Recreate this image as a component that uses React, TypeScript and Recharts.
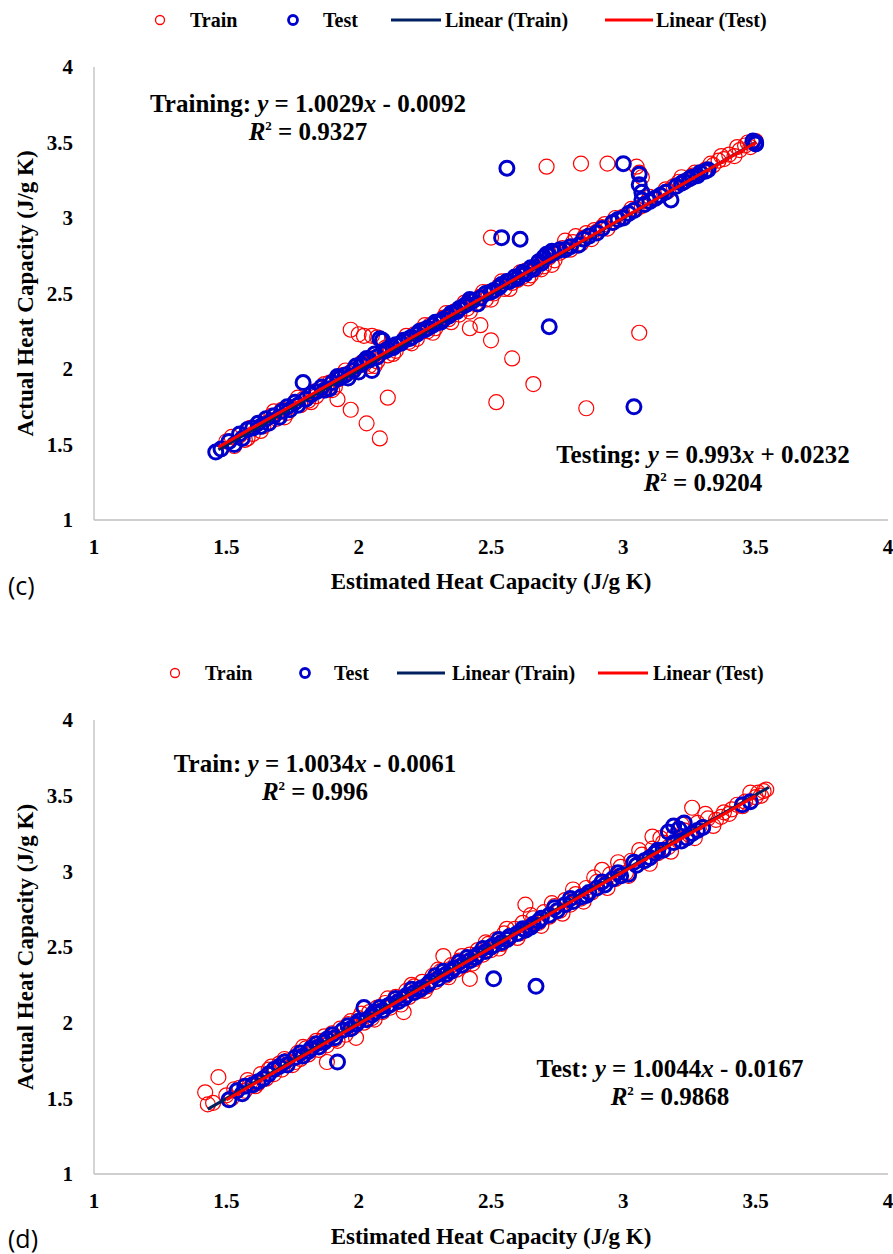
import React from 'react';
import { ScatterChart, Scatter, XAxis, YAxis } from 'recharts';

type P = { x: number; y: number };
const pts = (a: number[][]): P[] => a.map(([x, y]) => ({ x, y }));

// ---------- axis ticks ----------
const axisTicks = [1, 1.5, 2, 2.5, 3, 3.5, 4];

// ---------- chart (c) ----------
const trainC = pts([
  [1.48, 1.47], [1.5, 1.52], [1.53, 1.49], [1.55, 1.56], [1.57, 1.53], [1.59, 1.61], [1.6, 1.57], [1.62, 1.64],
  [1.64, 1.62], [1.66, 1.65], [1.67, 1.69], [1.69, 1.67], [1.71, 1.73], [1.73, 1.71], [1.74, 1.75], [1.76, 1.78],
  [1.78, 1.76], [1.79, 1.8], [1.81, 1.79], [1.83, 1.85], [1.84, 1.82], [1.86, 1.87], [1.88, 1.86], [1.89, 1.91],
  [1.91, 1.88], [1.92, 1.93], [1.94, 1.96], [1.96, 1.94], [1.97, 1.98], [1.99, 2.01], [2.0, 1.98], [2.02, 2.03],
  [2.04, 2.02], [2.05, 2.07], [2.07, 2.05], [2.09, 2.11], [2.11, 2.09], [2.12, 2.14], [2.14, 2.12], [2.16, 2.17],
  [2.17, 2.19], [2.19, 2.18], [2.21, 2.23], [2.22, 2.2], [2.24, 2.26], [2.26, 2.25], [2.27, 2.29], [2.29, 2.27],
  [2.31, 2.32], [2.32, 2.34], [2.34, 2.33], [2.36, 2.38], [2.38, 2.36], [2.39, 2.41], [2.41, 2.4], [2.43, 2.45],
  [2.44, 2.43], [2.46, 2.48], [2.48, 2.46], [2.49, 2.51], [2.51, 2.5], [2.53, 2.55], [2.55, 2.53], [2.56, 2.58],
  [2.58, 2.57], [2.6, 2.59], [2.62, 2.61], [2.63, 2.65], [2.65, 2.62], [2.67, 2.66], [2.68, 2.7], [2.7, 2.68],
  [2.72, 2.74], [2.74, 2.72], [2.76, 2.77], [2.78, 2.85], [2.8, 2.79], [2.82, 2.88], [2.84, 2.83], [2.86, 2.9],
  [2.88, 2.86], [2.9, 2.91], [2.92, 2.94], [2.94, 2.93], [2.96, 2.97], [2.98, 2.99], [3.0, 3.01], [3.02, 3.03],
  [3.05, 3.06], [3.07, 3.08], [3.09, 3.11], [3.12, 3.13], [3.14, 3.15], [3.17, 3.18], [3.19, 3.21], [3.22, 3.27],
  [3.24, 3.25], [3.26, 3.28], [3.29, 3.3], [3.31, 3.32], [3.34, 3.35], [3.36, 3.38], [3.38, 3.39], [3.4, 3.42],
  [3.42, 3.41], [3.44, 3.45], [3.46, 3.48], [3.48, 3.47], [3.5, 3.51],
  [1.52, 1.55], [1.58, 1.54], [1.63, 1.59], [1.68, 1.72], [1.72, 1.68], [1.77, 1.81], [1.82, 1.78], [1.87, 1.9],
  [1.9, 1.86], [1.95, 1.99], [2.01, 2.04], [2.06, 2.02], [2.1, 2.14], [2.13, 2.1], [2.18, 2.22], [2.2, 2.17],
  [2.25, 2.29], [2.28, 2.24], [2.33, 2.37], [2.35, 2.31], [2.4, 2.44], [2.42, 2.38], [2.47, 2.51], [2.5, 2.46],
  [2.54, 2.58], [2.57, 2.53], [2.61, 2.64], [2.64, 2.6], [2.69, 2.66], [2.71, 2.75], [2.73, 2.69], [2.77, 2.8],
  [2.81, 2.84], [2.85, 2.87], [2.89, 2.92], [2.93, 2.96], [2.97, 3.0], [3.03, 3.06], [3.1, 3.14], [3.16, 3.19],
  [3.21, 3.24], [3.27, 3.3], [3.33, 3.36], [3.37, 3.41], [3.43, 3.47], [3.47, 3.5],
  [1.97, 2.26], [2.0, 2.23], [2.02, 2.22], [2.05, 2.22], [2.07, 2.21], [1.92, 1.8], [1.97, 1.73], [2.03, 1.64],
  [2.08, 1.54], [2.11, 1.81], [2.42, 2.27], [2.46, 2.29], [2.5, 2.19], [2.58, 2.07], [2.52, 1.78], [2.66, 1.9],
  [2.86, 1.74], [3.06, 2.24], [2.5, 2.87], [2.71, 3.34], [2.84, 3.36], [2.94, 3.36], [3.05, 3.34], [3.06, 3.3],
  [3.07, 3.27],
]);
const testC = pts([
  [1.46, 1.45], [1.51, 1.52], [1.53, 1.5], [1.56, 1.54], [1.6, 1.61], [1.63, 1.62], [1.66, 1.64], [1.68, 1.69],
  [1.71, 1.72], [1.74, 1.73], [1.77, 1.76], [1.79, 1.91], [1.8, 1.8], [1.84, 1.85], [1.87, 1.86], [1.9, 1.91],
  [1.93, 1.94], [1.95, 1.96], [1.98, 1.99], [2.0, 1.98], [2.02, 2.05], [2.04, 2.06], [2.05, 1.99], [2.06, 2.1],
  [2.08, 2.2], [2.09, 2.19], [2.1, 2.12], [2.13, 2.14], [2.16, 2.17], [2.19, 2.2], [2.22, 2.23], [2.25, 2.26],
  [2.28, 2.29], [2.31, 2.31], [2.34, 2.35], [2.37, 2.38], [2.4, 2.42], [2.43, 2.45], [2.45, 2.43], [2.48, 2.5],
  [2.51, 2.52], [2.54, 2.56], [2.57, 2.58], [2.6, 2.6], [2.63, 2.63], [2.66, 2.66], [2.69, 2.7], [2.71, 2.76],
  [2.72, 2.75], [2.74, 2.77], [2.54, 2.87], [2.61, 2.86], [2.56, 3.33], [2.72, 2.28], [2.78, 2.79], [2.83, 2.82],
  [2.87, 2.88], [2.9, 2.9], [2.96, 2.97], [3.0, 3.0], [3.0, 3.36], [3.02, 3.03], [3.06, 3.29], [3.06, 3.22],
  [3.07, 3.17], [3.07, 3.12], [3.08, 3.09], [3.04, 1.75], [3.12, 3.13], [3.16, 3.17], [3.18, 3.12], [3.2, 3.21],
  [3.23, 3.24], [3.26, 3.27], [3.29, 3.3], [3.32, 3.32], [3.49, 3.51], [3.5, 3.5], [3.5, 3.49],
  [1.48, 1.47], [1.55, 1.57], [1.58, 1.6], [1.62, 1.64], [1.65, 1.67], [1.7, 1.68], [1.73, 1.75], [1.76, 1.78],
  [1.82, 1.83], [1.86, 1.88], [1.89, 1.87], [1.92, 1.95], [1.96, 1.94], [1.99, 2.02], [2.01, 2.03], [2.03, 2.07],
  [2.07, 2.08], [2.11, 2.13], [2.14, 2.16], [2.17, 2.19], [2.2, 2.21], [2.23, 2.25], [2.26, 2.27], [2.29, 2.31],
  [2.32, 2.33], [2.35, 2.37], [2.38, 2.4], [2.41, 2.43], [2.42, 2.46], [2.46, 2.47], [2.5, 2.51], [2.53, 2.54],
  [2.56, 2.58], [2.59, 2.61], [2.62, 2.64], [2.65, 2.67], [2.68, 2.71], [2.7, 2.74], [2.73, 2.78], [2.76, 2.79],
  [2.8, 2.81], [2.85, 2.86], [2.92, 2.93], [2.98, 2.99], [3.04, 3.05], [3.1, 3.11], [3.14, 3.15], [3.22, 3.23],
  [3.25, 3.26], [3.28, 3.28], [3.31, 3.31],
]);
const trainFitC = { slope: 1.0029, intercept: -0.0092, from: 1.47, to: 3.5 };
const testFitC = { slope: 0.993, intercept: 0.0232, from: 1.47, to: 3.5 };

// ---------- chart (d) ----------
const trainD = pts([
  [1.43, 1.46], [1.42, 1.54], [1.47, 1.64], [1.5, 1.52], [1.52, 1.5], [1.55, 1.57], [1.57, 1.55], [1.59, 1.6],
  [1.61, 1.58], [1.63, 1.66], [1.65, 1.63], [1.66, 1.69], [1.68, 1.66], [1.7, 1.73], [1.71, 1.69], [1.73, 1.75],
  [1.75, 1.72], [1.77, 1.8], [1.78, 1.76], [1.8, 1.83], [1.81, 1.79], [1.83, 1.86], [1.85, 1.82], [1.86, 1.88],
  [1.88, 1.85], [1.88, 1.74], [1.9, 1.93], [1.91, 1.89], [1.93, 1.96], [1.95, 1.92], [1.96, 1.99], [1.99, 1.9],
  [1.98, 1.97], [2.0, 2.03], [2.02, 2.0], [2.04, 2.07], [2.05, 2.03], [2.07, 2.1], [2.09, 2.07], [2.1, 2.13],
  [2.12, 2.1], [2.14, 2.17], [2.15, 2.14], [2.17, 2.07], [2.18, 2.21], [2.19, 2.17], [2.21, 2.24], [2.23, 2.21],
  [2.24, 2.27], [2.26, 2.24], [2.28, 2.31], [2.29, 2.27], [2.31, 2.34], [2.32, 2.44], [2.33, 2.31], [2.35, 2.38],
  [2.37, 2.35], [2.38, 2.41], [2.4, 2.38], [2.42, 2.29], [2.42, 2.45], [2.44, 2.42], [2.45, 2.48], [2.47, 2.45],
  [2.49, 2.52], [2.5, 2.48], [2.52, 2.55], [2.54, 2.52], [2.55, 2.59], [2.57, 2.56], [2.59, 2.62], [2.61, 2.59],
  [2.63, 2.78], [2.62, 2.66], [2.64, 2.63], [2.66, 2.69], [2.68, 2.66], [2.7, 2.73], [2.72, 2.7], [2.74, 2.77],
  [2.76, 2.74], [2.78, 2.81], [2.8, 2.78], [2.82, 2.85], [2.84, 2.82], [2.86, 2.89], [2.88, 2.86], [2.9, 2.93],
  [2.92, 3.01], [2.93, 2.91], [2.95, 2.98], [2.97, 2.95], [2.99, 3.03], [3.01, 2.99], [3.03, 3.07], [3.05, 3.04],
  [3.07, 3.11], [3.09, 3.08], [3.11, 3.23], [3.11, 3.15], [3.13, 3.12], [3.15, 3.19], [3.17, 3.16], [3.19, 3.23],
  [3.21, 3.2], [3.23, 3.27], [3.25, 3.24], [3.26, 3.42], [3.28, 3.32], [3.3, 3.29], [3.32, 3.35], [3.35, 3.34],
  [3.38, 3.39], [3.4, 3.38], [3.43, 3.44], [3.45, 3.43], [3.48, 3.52], [3.5, 3.49], [3.53, 3.53], [3.52, 3.5],
  [1.45, 1.47], [1.53, 1.56], [1.58, 1.62], [1.62, 1.6], [1.67, 1.71], [1.72, 1.76], [1.76, 1.74], [1.79, 1.84],
  [1.84, 1.88], [1.87, 1.91], [1.92, 1.88], [1.97, 2.01], [2.01, 2.06], [2.06, 2.02], [2.11, 2.16], [2.16, 2.12],
  [2.2, 2.25], [2.25, 2.21], [2.3, 2.35], [2.34, 2.3], [2.39, 2.44], [2.43, 2.39], [2.48, 2.53], [2.53, 2.49],
  [2.56, 2.62], [2.6, 2.56], [2.65, 2.71], [2.69, 2.64], [2.73, 2.79], [2.77, 2.72], [2.81, 2.88], [2.85, 2.8],
  [2.89, 2.96], [2.94, 2.89], [2.98, 3.06], [3.02, 2.97], [3.06, 3.14], [3.1, 3.05], [3.14, 3.22], [3.18, 3.13],
  [3.22, 3.31], [3.27, 3.22], [3.31, 3.38], [3.34, 3.3], [3.37, 3.36], [3.41, 3.41], [3.46, 3.46], [3.51, 3.52],
  [3.54, 3.54],
]);
const testD = pts([
  [1.51, 1.49], [1.54, 1.55], [1.56, 1.53], [1.6, 1.59], [1.62, 1.61], [1.66, 1.66], [1.7, 1.71], [1.73, 1.72],
  [1.76, 1.77], [1.79, 1.78], [1.82, 1.83], [1.85, 1.84], [1.88, 1.89], [1.92, 1.74], [1.91, 1.9], [1.94, 1.95],
  [1.97, 1.96], [2.0, 2.01], [2.02, 2.1], [2.03, 2.02], [2.06, 2.07], [2.09, 2.08], [2.12, 2.12], [2.15, 2.14],
  [2.18, 2.18], [2.21, 2.2], [2.24, 2.23], [2.27, 2.27], [2.3, 2.29], [2.33, 2.32], [2.36, 2.36], [2.39, 2.38],
  [2.42, 2.41], [2.45, 2.45], [2.48, 2.47], [2.51, 2.29], [2.51, 2.51], [2.54, 2.53], [2.57, 2.57], [2.6, 2.59],
  [2.63, 2.61], [2.66, 2.65], [2.67, 2.24], [2.69, 2.69], [2.72, 2.71], [2.75, 2.74], [2.78, 2.78], [2.81, 2.8],
  [2.84, 2.83], [2.87, 2.86], [2.9, 2.89], [2.93, 2.91], [2.96, 2.95], [2.99, 2.97], [3.02, 2.98], [3.05, 3.04],
  [3.08, 3.07], [3.12, 3.12], [3.15, 3.14], [3.17, 3.26], [3.19, 3.3], [3.21, 3.28], [3.23, 3.32], [3.22, 3.2],
  [3.26, 3.25], [3.3, 3.29], [3.45, 3.44], [3.48, 3.46],
  [1.57, 1.58], [1.64, 1.63], [1.68, 1.69], [1.72, 1.74], [1.78, 1.8], [1.81, 1.81], [1.84, 1.86], [1.87, 1.87],
  [1.9, 1.92], [1.96, 1.98], [1.99, 1.99], [2.05, 2.05], [2.08, 2.1], [2.11, 2.11], [2.14, 2.16], [2.17, 2.16],
  [2.2, 2.22], [2.23, 2.22], [2.26, 2.25], [2.29, 2.31], [2.32, 2.34], [2.35, 2.34], [2.38, 2.4], [2.41, 2.43],
  [2.44, 2.43], [2.47, 2.49], [2.5, 2.5], [2.53, 2.55], [2.56, 2.55], [2.62, 2.62], [2.65, 2.63], [2.68, 2.67],
  [2.74, 2.76], [2.8, 2.82], [2.86, 2.84], [2.92, 2.93], [2.98, 2.99], [3.04, 3.06], [3.1, 3.09], [3.13, 3.14],
  [3.19, 3.19], [3.24, 3.22], [3.28, 3.27],
]);
const trainFitD = { slope: 1.0034, intercept: -0.0061, from: 1.43, to: 3.55 };
const testFitD = { slope: 1.0044, intercept: -0.0167, from: 1.5, to: 3.5 };

// ---------- text ----------
const legendLabels = ['Train', 'Test', 'Linear (Train)', 'Linear (Test)'];
const xTitle = 'Estimated Heat Capacity (J/g K)';
const yTitle = 'Actual Heat Capacity (J/g K)';

const SERIF = '"Liberation Serif", "Times New Roman", serif';
const RED = '#FF0000';
const BLUE = '#0000CC';
const NAVY = '#002060';
const AXIS = '#BFBFBF';

type Fit = { slope: number; intercept: number; from: number; to: number };
const fitLine = (f: Fit): P[] => [f.from, f.to].map((x) => ({ x, y: f.slope * x + f.intercept }));

const TrainDot = (p: any) =>
  p.cx == null ? <g /> : <circle cx={p.cx} cy={p.cy} r={7.5} fill="none" stroke={RED} strokeWidth={1.2} />;
const TestDot = (p: any) =>
  p.cx == null ? <g /> : <circle cx={p.cx} cy={p.cy} r={7} fill="none" stroke={BLUE} strokeWidth={3} />;
const NoDot = () => <g />;

const tickStyle = { fill: '#000', fontSize: 21, fontWeight: 700, fontFamily: SERIF };

function Panel(props: {
  top: number; height: number; mTop: number; mBottom: number;
  train: P[]; test: P[]; trainFit: Fit; testFit: Fit;
}) {
  const { top, height, mTop, mBottom, train, test, trainFit, testFit } = props;
  return (
    <div style={{ position: 'absolute', left: 0, top, width: 893, height }}>
      <ScatterChart width={893} height={height} margin={{ top: mTop, right: 5, bottom: mBottom, left: 0 }}>
        <XAxis
          type="number" dataKey="x" domain={[1, 4]} ticks={axisTicks} allowDataOverflow
          axisLine={{ stroke: AXIS, strokeWidth: 1.3 }} tickLine={false} tickSize={0} tickMargin={19}
          height={60} tick={tickStyle} interval={0}
        />
        <YAxis
          type="number" dataKey="y" domain={[1, 4]} ticks={axisTicks} allowDataOverflow
          axisLine={{ stroke: AXIS, strokeWidth: 1.3 }} tickLine={false} tickSize={0} tickMargin={21}
          width={94} tick={tickStyle} interval={0}
        />
        <Scatter name="Train" data={train} shape={TrainDot} isAnimationActive={false} />
        <Scatter name="Test" data={test} shape={TestDot} isAnimationActive={false} />
        <Scatter name="Linear (Train)" data={fitLine(trainFit)} shape={NoDot}
          line={{ stroke: NAVY, strokeWidth: 3 }} isAnimationActive={false} />
        <Scatter name="Linear (Test)" data={fitLine(testFit)} shape={NoDot}
          line={{ stroke: RED, strokeWidth: 3 }} isAnimationActive={false} />
      </ScatterChart>
    </div>
  );
}

function Legend({ y, xs }: { y: number; xs: number[] }) {
  const base = y + 7;
  const t = { fontFamily: SERIF, fontSize: 20, fontWeight: 700, fill: '#000' } as const;
  return (
    <g>
      <circle cx={xs[0]} cy={y} r={4.5} fill="none" stroke={RED} strokeWidth={1.3} />
      <text x={xs[1]} y={base} {...t}>{legendLabels[0]}</text>
      <circle cx={xs[2]} cy={y} r={4.5} fill="none" stroke={BLUE} strokeWidth={2.8} />
      <text x={xs[3]} y={base} {...t}>{legendLabels[1]}</text>
      <line x1={xs[4]} x2={xs[5]} y1={y} y2={y} stroke={NAVY} strokeWidth={3} />
      <text x={xs[6]} y={base} {...t}>{legendLabels[2]}</text>
      <line x1={xs[7]} x2={xs[8]} y1={y} y2={y} stroke={RED} strokeWidth={3} />
      <text x={xs[9]} y={base} {...t}>{legendLabels[3]}</text>
    </g>
  );
}

function Equation({ x, y, label, slope, intercept, r2 }: {
  x: number; y: number; label: string; slope: string; intercept: string; r2: string;
}) {
  const t = { fontFamily: SERIF, fontSize: 25, fontWeight: 700, fill: '#000', textAnchor: 'middle' } as const;
  return (
    <g>
      <text x={x} y={y} {...t}>
        {label}: <tspan fontStyle="italic">y</tspan> = {slope}<tspan fontStyle="italic">x</tspan> {intercept}
      </text>
      <text x={x} y={y + 28} {...t}>
        <tspan fontStyle="italic">R</tspan>
        <tspan fontSize={13} dy={-10}>2</tspan>
        <tspan dy={10}> = {r2}</tspan>
      </text>
    </g>
  );
}

function Titles({ plotTop, plotBottom, xBase, tag, tagBase }: {
  plotTop: number; plotBottom: number; xBase: number; tag: string; tagBase: number;
}) {
  const t = { fontFamily: SERIF, fontSize: 23, fontWeight: 700, fill: '#000', textAnchor: 'middle' } as const;
  const cy = (plotTop + plotBottom) / 2;
  return (
    <g>
      <text x={491} y={xBase} {...t}>{xTitle}</text>
      <text x={0} y={0} transform={`translate(33 ${cy}) rotate(-90)`} {...t}>{yTitle}</text>
      <text x={8} y={tagBase} fontFamily='"Open Sans", "Noto Sans", sans-serif' fontSize={25} fill="#000">{tag}</text>
    </g>
  );
}

export default function App() {
  return (
    <div style={{ position: 'absolute', left: 0, top: 0, width: 893, height: 1254, background: '#fff', overflow: 'hidden' }}>
      <Panel top={0} height={627} mTop={67} mBottom={47}
        train={trainC} test={testC} trainFit={trainFitC} testFit={testFitC} />
      <Panel top={627} height={627} mTop={93} mBottom={20}
        train={trainD} test={testD} trainFit={trainFitD} testFit={testFitD} />
      <svg width={893} height={1254} style={{ position: 'absolute', left: 0, top: 0, pointerEvents: 'none' }}>
        <Legend y={20} xs={[160, 190, 293, 323, 391, 441, 445, 605, 653, 656]} />
        <Legend y={673} xs={[175, 205, 305, 334, 397, 445, 452, 598, 648, 653]} />
        <Equation x={308} y={112} label="Training" slope="1.0029" intercept="- 0.0092" r2="0.9327" />
        <Equation x={703} y={463} label="Testing" slope="0.993" intercept="+ 0.0232" r2="0.9204" />
        <Equation x={315} y={772} label="Train" slope="1.0034" intercept="- 0.0061" r2="0.996" />
        <Equation x={670} y={1077} label="Test" slope="1.0044" intercept="- 0.0167" r2="0.9868" />
        <Titles plotTop={67} plotBottom={520} xBase={589} tag="(c)" tagBase={595} />
        <Titles plotTop={720} plotBottom={1174} xBase={1244} tag="(d)" tagBase={1248} />
      </svg>
    </div>
  );
}
